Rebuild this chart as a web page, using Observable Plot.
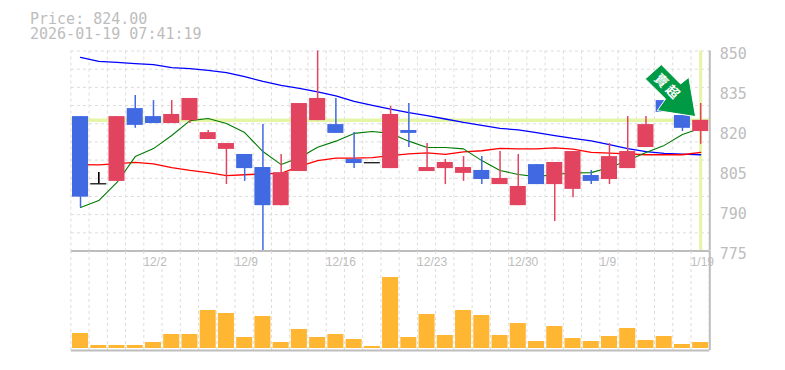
<!DOCTYPE html>
<html>
<head>
<meta charset="utf-8">
<style>
html,body{margin:0;padding:0;background:#fff;width:785px;height:370px;overflow:hidden}
#head{height:40px;box-sizing:border-box;padding:12px 0 0 30px;font:15px/14.5px "DejaVu Sans Mono",monospace;color:#bdbdbd;white-space:pre}
svg{display:block;overflow:visible}
</style>
<script src="https://cdn.jsdelivr.net/npm/d3@7"></script>
<script src="https://cdn.jsdelivr.net/npm/@observablehq/plot@0.6"></script>
</head>
<body>
<div id="head"></div>
<div id="chart"></div>
<script>
const titleLines = ["Price: 824.00", "2026-01-19 07:41:19"];
const currentPrice = 824;
const priceTicks = [775, 790, 805, 820, 835, 850];
const dateLabels = ["12/2", "12/9", "12/16", "12/23", "12/30", "1/9", "1/19"];
const dateIndex = [4, 9, 14, 19, 24, 29, 34];

const opens  = [825.4,800.2,801.1,828.4,825.4,822.8,823.9,816.8,813.1,811.2,806.3,792,804.8,823.9,822.4,809.3,808.1,805.9,820.2,804.8,805.9,804.1,805.2,799.9,792,807.4,799.9,798.1,803.3,801.8,805.9,813.8,831.4,825.8,819.8];
const closes = [795.2,800.2,825.4,822.1,822.8,826.2,832.2,819.4,815.3,805.9,792,804.4,830.3,832.2,819.1,807.8,808.1,826.2,819.1,806.3,808.2,806.3,801.8,802.2,799.2,799.9,808.2,812.3,801.1,810.4,812.3,822.4,827,821,824];
const highs  = [825.4,804.4,825.4,833.3,831.4,831.4,832.2,820.2,815.3,811.2,822.4,811.2,830.3,850,832.2,819.4,808.1,829.2,830.3,815.3,809.3,810.4,810.4,812.3,811.2,807.4,808.2,812.3,805.2,815.3,825.4,825.4,831.4,825.8,830.3];
const lows   = [791.2,800.2,801.1,821,822.8,822.8,822.8,816.8,799.9,801.1,775,792,804.8,823.9,819.1,805.9,808.1,805.9,813.8,804.8,799.9,801.1,799.9,799.9,792,799.9,786.1,795,799.9,799.9,805.9,813.8,827,819.8,815];
const volume = [15,3,3,3,6,14,14,38,35,11,32,6,19,11,14,9,2,71,11,34,13,38,33,13,25,7,22,10,7,12,20,8,12,4,6];
const maBlue  = [847.6,846.1,845.7,845.3,844.9,843.8,843.4,842.7,841.9,840.4,838.6,837.1,836,834.7,833.2,831.1,829.6,828.2,826.9,825.8,824.5,823.2,822.1,821,820.4,819.4,818.3,817.2,816.3,814.9,813.4,812.3,811.6,811.3,811.1];
const maRed   = [807.4,807.3,807.8,808.2,807.7,806.3,805.2,804.4,803.3,803.6,803.9,804.1,806.7,808.9,809.8,809.8,810,810.8,811.4,811.8,811.2,812.2,812.6,813.5,813.3,813.3,813.7,813.2,812,811.7,811.4,811.1,811.1,811.1,812];
const maGreen = [791.3,793.9,800.7,810.4,813.4,818.3,823.9,824.7,822.8,819.4,812.3,807.4,810,813.9,816.2,819.1,819.8,819.1,816.2,813.8,813.8,813.3,808.9,805.2,803.7,802.9,803.7,804.3,804.4,806.3,808.9,811.9,814.6,818.7,821];

const signalIndex = 33.72, signalPrice = 825.4;
const signalText = "賣 超", signalTextIndex = 32.13, signalTextPrice = 836.7;

const RED = "#e2445f", BLUE = "#4169e1", GRID = "#dcdcdc", FRAME = "#bdbdbd", HILITE = "#e4f5a6", TEXT = "#bdbdbd";

d3.select("#head").text(titleLines.join("\n"));

const idx = d3.range(opens.length);
const candles = idx.map(i => ({i, o: opens[i], c: closes[i], h: highs[i], l: lows[i],
  color: closes[i] > opens[i] ? RED : closes[i] < opens[i] ? BLUE : "#000"}));
const line = a => idx.map(i => ({i, v: a[i]}));
const gridIdx = d3.range(-0.53, 34.6, 1);
const hGrid = d3.range(12).map(k => 775 + 75 * k / 11);
const W = 785, ML = 70.9, MR = 75.7;
const xScale = {type: "linear", domain: [-0.5, 34.5], axis: null};

// block-arrow annotation: outline relative to its tip
const arrowSymbol = {draw(ctx) {
  const pts = [[-50.3,-37.7],[-34.3,-52],[-15,-32.7],[-6.7,-39.3],[0,0],[-38.3,-6],[-30,-17.7]];
  pts.forEach((p, k) => k ? ctx.lineTo(p[0], p[1]) : ctx.moveTo(p[0], p[1]));
  ctx.closePath();
}};

const pricePlot = Plot.plot({
  width: W, height: 211, marginTop: 10.5, marginBottom: 0.5, marginLeft: ML, marginRight: MR,
  style: {background: "transparent", overflow: "visible"},
  x: xScale,
  y: {type: "linear", domain: [775, 850], axis: null},
  marks: [
    Plot.ruleY(hGrid, {stroke: GRID, strokeDasharray: "3 3", strokeWidth: 1}),
    Plot.ruleX(gridIdx, {stroke: GRID, strokeDasharray: "3 3", strokeWidth: 1}),
    Plot.ruleY([currentPrice], {stroke: HILITE, strokeWidth: 3.5}),
    Plot.ruleX([34], {stroke: HILITE, strokeWidth: 3}),
    Plot.line(line(maBlue), {x: "i", y: "v", stroke: "#0000ff", strokeWidth: 1.3, curve: "linear"}),
    Plot.line(line(maRed), {x: "i", y: "v", stroke: "#ff0000", strokeWidth: 1.3, curve: "linear"}),
    Plot.line(line(maGreen), {x: "i", y: "v", stroke: "#007a00", strokeWidth: 1.1, curve: "linear"}),
    Plot.ruleX(candles, {x: "i", y1: "l", y2: "h", stroke: "color", strokeWidth: 1.5}),
    Plot.rect(candles.filter(d => d.o !== d.c), {x1: d => d.i - 0.44, x2: d => d.i + 0.44, y1: "o", y2: "c", fill: "color"}),
    Plot.ruleY(candles.filter(d => d.o === d.c), {y: "o", x1: d => d.i - 0.44, x2: d => d.i + 0.44, stroke: "#000", strokeWidth: 1.2}),
    Plot.ruleX(candles.filter(d => d.o === d.c), {x: "i", y1: "l", y2: "h", stroke: "#000", strokeWidth: 1}),
    Plot.ruleX([34.5], {stroke: FRAME, strokeWidth: 2}),
    Plot.ruleY([775], {stroke: FRAME, strokeWidth: 2}),
    Plot.dot([0], {x: () => signalIndex, y: () => signalPrice, symbol: arrowSymbol, r: 10, fill: "#009944", stroke: "#fff", strokeWidth: 1}),
    Plot.text([signalText], {x: () => signalTextIndex, y: () => signalTextPrice, text: d => d, rotate: 45, fill: "#fff", fontSize: 13, fontWeight: 700, fontFamily: "Noto Sans CJK TC"}),
    Plot.axisY({anchor: "right", ticks: priceTicks, tickSize: 0, tickPadding: 10, dy: 3, fontSize: 15, fontFamily: "DejaVu Sans Mono", color: TEXT, label: null, textAnchor: "start", tickFormat: d => String(d)})
  ]
});

const volumePlot = Plot.plot({
  width: W, height: 119, marginTop: 0, marginBottom: 20, marginLeft: ML, marginRight: MR,
  style: {background: "transparent", overflow: "visible"},
  x: xScale,
  y: {type: "linear", domain: [-2, 97], axis: null},
  marks: [
    Plot.ruleX(gridIdx, {stroke: GRID, strokeDasharray: "3 3", strokeWidth: 1}),
    Plot.rect(idx, {x1: i => i - 0.44, x2: i => i + 0.44, y1: () => 0, y2: i => volume[i], fill: "#ffb733"}),
    Plot.ruleX([34.5], {stroke: FRAME, strokeWidth: 2}),
    Plot.ruleY([-2], {stroke: FRAME, strokeWidth: 2}),
    Plot.text(dateLabels, {x: (d, k) => dateIndex[k] - 0.55, text: d => d, frameAnchor: "top", dy: 6, textAnchor: "start", lineAnchor: "top", fill: TEXT, fontSize: 12, fontFamily: "Liberation Sans"})
  ]
});

const host = document.getElementById("chart");
host.appendChild(pricePlot);
host.appendChild(volumePlot);
</script>
</body>
</html>
